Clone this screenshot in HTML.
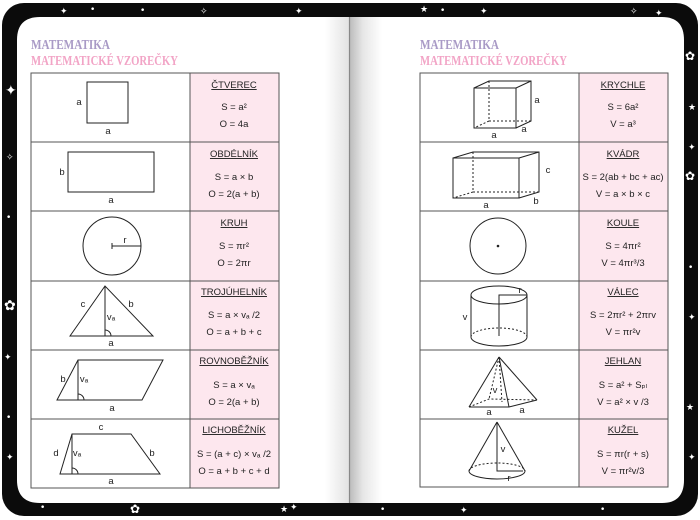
<!DOCTYPE html>
<html><head><meta charset="utf-8"><style>
html,body{margin:0;padding:0;background:#fff;}
svg{display:block}
.t{font-family:"Liberation Sans",sans-serif;font-size:9.5px;fill:#222;}
.h{font-family:"Liberation Sans",sans-serif;font-size:9.5px;fill:#222;text-decoration:underline;}
.tt{font-family:"Liberation Serif",serif;font-weight:bold;font-size:13.5px;}
</style></head><body>
<svg width="700" height="520" viewBox="0 0 700 520" xmlns="http://www.w3.org/2000/svg">
<defs>
<linearGradient id="gl" x1="0" x2="1"><stop offset="0" stop-color="#fff"/><stop offset="1" stop-color="#e2e2e2"/></linearGradient>
<linearGradient id="gr" x1="0" x2="1"><stop offset="0" stop-color="#bdbdbd"/><stop offset="0.4" stop-color="#e6e6e6"/><stop offset="1" stop-color="#fff"/></linearGradient>
</defs>
<rect x="2" y="3" width="696" height="513" rx="22" fill="#0b0b0b"/>
<g fill="#fff" font-family="DejaVu Sans" font-size="9">
<text x="60" y="14">✦</text><text x="90" y="12">•</text><text x="140" y="13">•</text><text x="200" y="14">✧</text><text x="295" y="14">✦</text>
<text x="420" y="12">★</text><text x="440" y="13">•</text><text x="480" y="14">✦</text><text x="630" y="14">✧</text><text x="655" y="16">✦</text>
<text x="5" y="95" font-size="14">✦</text><text x="6" y="160">✧</text><text x="6" y="220">•</text><text x="4" y="310" font-size="14">✿</text><text x="4" y="360">✦</text><text x="6" y="420">•</text><text x="6" y="460">✦</text>
<text x="685" y="60" font-size="12">✿</text><text x="688" y="110">★</text><text x="688" y="150">✦</text><text x="685" y="180" font-size="12">✿</text><text x="688" y="270">•</text><text x="688" y="320">✦</text><text x="686" y="410">★</text><text x="688" y="460">✦</text>
<text x="130" y="513" font-size="12">✿</text><text x="280" y="512">★</text><text x="290" y="510">✦</text><text x="380" y="512">•</text><text x="460" y="513">✦</text><text x="600" y="512">•</text><text x="40" y="510">•</text>
</g>
<path d="M17 40 Q17 17 40 17 L349 17 L349 503 L40 503 Q17 503 17 480 Z" fill="#fff"/>
<rect x="325" y="17" width="24" height="486" fill="url(#gl)"/>
<path d="M350 17 L662 17 Q684 17 684 40 L684 480 Q684 503 662 503 L350 503 Z" fill="#fff"/>
<rect x="350" y="17" width="32" height="486" fill="url(#gr)"/>
<line x1="349.5" y1="17" x2="349.5" y2="503" stroke="#888" stroke-width="1.2"/>

<text class="tt" x="31" y="49" fill="#a99ac6" textLength="79" lengthAdjust="spacingAndGlyphs">MATEMATIKA</text>
<text class="tt" x="31" y="65" fill="#f2a4c6" textLength="147" lengthAdjust="spacingAndGlyphs">MATEMATICKÉ VZOREČKY</text>
<text class="tt" x="420" y="49" fill="#a99ac6" textLength="79" lengthAdjust="spacingAndGlyphs">MATEMATIKA</text>
<text class="tt" x="420" y="65" fill="#f2a4c6" textLength="147" lengthAdjust="spacingAndGlyphs">MATEMATICKÉ VZOREČKY</text>

<g stroke="#555" stroke-width="1">
<rect x="190" y="73" width="89" height="415" fill="#fde7ee"/>
<rect x="31" y="73" width="248" height="415" fill="none"/>
<line x1="190" y1="73" x2="190" y2="488"/>
<line x1="31" y1="142" x2="279" y2="142"/><line x1="31" y1="211" x2="279" y2="211"/><line x1="31" y1="281" x2="279" y2="281"/><line x1="31" y1="350" x2="279" y2="350"/><line x1="31" y1="419" x2="279" y2="419"/>
<rect x="579" y="73" width="89" height="414" fill="#fde7ee"/>
<rect x="420" y="73" width="248" height="414" fill="none"/>
<line x1="579" y1="73" x2="579" y2="487"/>
<line x1="420" y1="142" x2="668" y2="142"/><line x1="420" y1="211" x2="668" y2="211"/><line x1="420" y1="281" x2="668" y2="281"/><line x1="420" y1="350" x2="668" y2="350"/><line x1="420" y1="419" x2="668" y2="419"/>
</g>

<g text-anchor="middle">
<text class="h" x="234" y="88">ČTVEREC</text><text class="t" x="234" y="110">S = a²</text><text class="t" x="234" y="127">O = 4a</text>
<text class="h" x="234" y="157">OBDÉLNÍK</text><text class="t" x="234" y="180">S = a × b</text><text class="t" x="234" y="197">O = 2(a + b)</text>
<text class="h" x="234" y="226">KRUH</text><text class="t" x="234" y="249">S = πr²</text><text class="t" x="234" y="266">O = 2πr</text>
<text class="h" x="234" y="295">TROJÚHELNÍK</text><text class="t" x="234" y="318">S = a × vₐ /2</text><text class="t" x="234" y="335">O = a + b + c</text>
<text class="h" x="234" y="364">ROVNOBĚŽNÍK</text><text class="t" x="234" y="388">S = a × vₐ</text><text class="t" x="234" y="405">O = 2(a + b)</text>
<text class="h" x="234" y="433">LICHOBĚŽNÍK</text><text class="t" x="234" y="457">S = (a + c) × vₐ /2</text><text class="t" x="234" y="474">O = a + b + c + d</text>

<text class="h" x="623" y="88">KRYCHLE</text><text class="t" x="623" y="110">S = 6a²</text><text class="t" x="623" y="127">V = a³</text>
<text class="h" x="623" y="157">KVÁDR</text><text class="t" x="623" y="180">S = 2(ab + bc + ac)</text><text class="t" x="623" y="197">V = a × b × c</text>
<text class="h" x="623" y="226">KOULE</text><text class="t" x="623" y="249">S = 4πr²</text><text class="t" x="623" y="266">V = 4πr³/3</text>
<text class="h" x="623" y="295">VÁLEC</text><text class="t" x="623" y="318">S = 2πr² + 2πrv</text><text class="t" x="623" y="335">V = πr²v</text>
<text class="h" x="623" y="364">JEHLAN</text><text class="t" x="623" y="388">S = a² + Sₚₗ</text><text class="t" x="623" y="405">V = a² × v /3</text>
<text class="h" x="623" y="433">KUŽEL</text><text class="t" x="623" y="457">S = πr(r + s)</text><text class="t" x="623" y="474">V = πr²v/3</text>
</g>

<g fill="none" stroke="#222" stroke-width="1">
<rect x="87" y="82" width="41" height="41"/>
<rect x="68" y="152" width="86" height="40"/>
<circle cx="112" cy="246" r="29"/><line x1="112" y1="246" x2="141" y2="246"/><line x1="112" y1="243" x2="112" y2="249"/>
<polygon points="70,336 105,286 153,336"/><line x1="105" y1="286" x2="105" y2="336"/><path d="M105 330 A6 6 0 0 1 111 336"/>
<polygon points="57,400 78,360 163,360 142,400"/><line x1="78" y1="360" x2="78" y2="400"/><path d="M78 394 A6 6 0 0 1 84 400"/>
<polygon points="60,474 72,434 131,434 160,474"/><line x1="72" y1="434" x2="72" y2="474"/><path d="M72 468 A6 6 0 0 1 78 474"/>

<rect x="474" y="88" width="42" height="40"/><polyline points="474,88 489,81 531,81 531,121 516,128"/><line x1="516" y1="88" x2="531" y2="81"/>
<g stroke-dasharray="2,2"><line x1="489" y1="81" x2="489" y2="121"/><line x1="489" y1="121" x2="531" y2="121"/><line x1="489" y1="121" x2="474" y2="128"/></g>
<rect x="453" y="158" width="66" height="40"/><polyline points="453,158 473,152 539,152 539,192 519,198"/><line x1="519" y1="158" x2="539" y2="152"/>
<g stroke-dasharray="2,2"><line x1="473" y1="152" x2="473" y2="192"/><line x1="473" y1="192" x2="539" y2="192"/><line x1="473" y1="192" x2="453" y2="198"/></g>
<circle cx="498" cy="246" r="28"/>
<ellipse cx="499" cy="295" rx="28" ry="9"/><line x1="471" y1="295" x2="471" y2="337"/><line x1="527" y1="295" x2="527" y2="337"/>
<path d="M471 337 A28 9 0 0 0 527 337"/><path d="M471 337 A28 9 0 0 1 527 337" stroke-dasharray="2,2"/>
<polyline points="499,336 499,295 527,295"/>
<polyline points="469,407 509,407 537,400"/><line x1="499" y1="357" x2="469" y2="407"/><line x1="499" y1="357" x2="509" y2="407"/><line x1="499" y1="357" x2="537" y2="400"/>
<g stroke-dasharray="2,2"><polyline points="469,407 489,399 537,400"/><line x1="499" y1="357" x2="489" y2="399"/><line x1="499" y1="357" x2="502" y2="402"/></g>
<line x1="497" y1="422" x2="469" y2="471"/><line x1="497" y1="422" x2="525" y2="471"/>
<path d="M469 471 A28 8 0 0 0 525 471"/><path d="M469 471 A28 8 0 0 1 525 471" stroke-dasharray="2,2"/>
<polyline points="497,422 497,471 523,471"/>
</g>
<circle cx="498" cy="246" r="1.3" fill="#222"/>

<g class="t" text-anchor="middle">
<text x="79" y="105">a</text><text x="108" y="134">a</text>
<text x="62" y="175">b</text><text x="111" y="203">a</text>
<text x="125" y="243">r</text>
<text x="83" y="307">c</text><text x="131" y="307">b</text><text x="111" y="320">vₐ</text><text x="111" y="346">a</text>
<text x="63" y="382">b</text><text x="84" y="382">vₐ</text><text x="112" y="411">a</text>
<text x="101" y="430">c</text><text x="56" y="456">d</text><text x="77" y="456">vₐ</text><text x="152" y="456">b</text><text x="111" y="484">a</text>
<text x="537" y="103">a</text><text x="494" y="138">a</text><text x="524" y="132">a</text>
<text x="548" y="173">c</text><text x="486" y="208">a</text><text x="536" y="204">b</text>
<text x="465" y="320">v</text><text x="520" y="293">r</text>
<text x="495" y="393">v</text><text x="489" y="415">a</text><text x="522" y="413">a</text>
<text x="503" y="452">v</text><text x="509" y="481">r</text>
</g>
</svg>
</body></html>
